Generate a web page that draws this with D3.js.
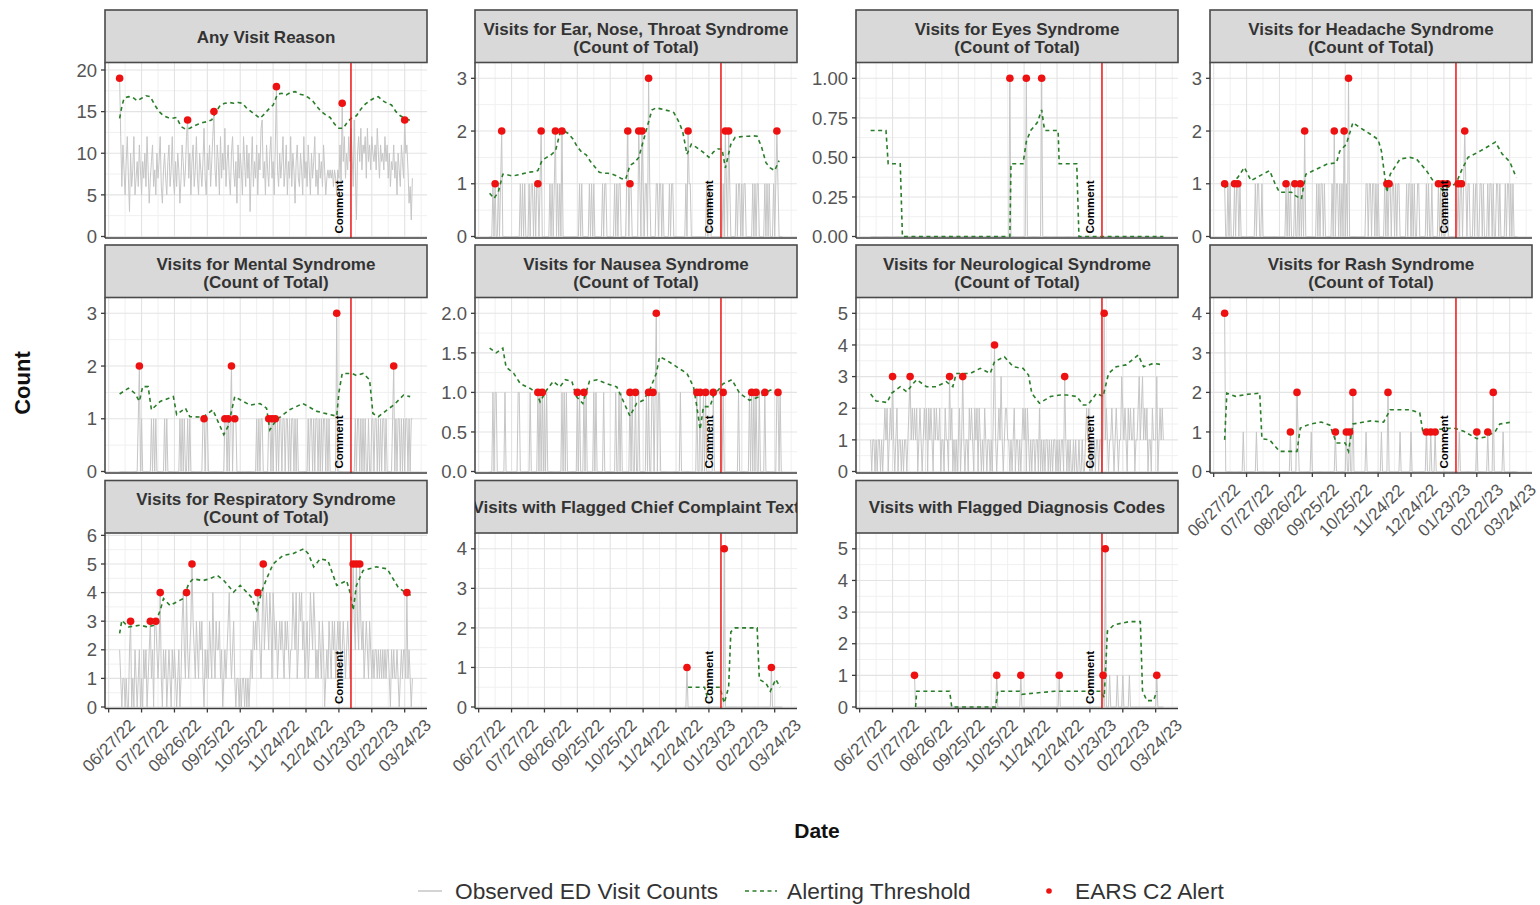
<!DOCTYPE html>
<html><head><meta charset="utf-8">
<script src="https://cdn.jsdelivr.net/npm/d3@7"></script>
<style>body{margin:0;background:#fff} svg{display:block} text{font-family:"Liberation Sans",Arial,sans-serif}</style>
</head><body><svg id="c" width="1540" height="905"></svg>
<script>
// ---------- DATA ----------
const startDate = "2022-07-07";          // first observed day (day index 0)
const xTickDates = ["2022-06-27","2022-07-27","2022-08-26","2022-09-25","2022-10-25","2022-11-24","2022-12-24","2023-01-23","2023-02-22","2023-03-24"];
const commentDate = "2023-01-23";
const eventDate = "2023-02-03";
const commentLabel = "Comment";
const legendLabels = ["Observed ED Visit Counts","Alerting Threshold","EARS C2 Alert"];

const titleAny = ["Any Visit Reason"];
const titleENT = ["Visits for Ear, Nose, Throat Syndrome","(Count of Total)"];
const titleEyes = ["Visits for Eyes Syndrome","(Count of Total)"];
const titleHead = ["Visits for Headache Syndrome","(Count of Total)"];
const titleMental = ["Visits for Mental Syndrome","(Count of Total)"];
const titleNausea = ["Visits for Nausea Syndrome","(Count of Total)"];
const titleNeuro = ["Visits for Neurological Syndrome","(Count of Total)"];
const titleRash = ["Visits for Rash Syndrome","(Count of Total)"];
const titleResp = ["Visits for Respiratory Syndrome","(Count of Total)"];
const titleCC = ["Visits with Flagged Chief Complaint Text"];
const titleDx = ["Visits with Flagged Diagnosis Codes"];

// daily observed counts (day index = position + start)
const obsAny = [
19,12,6,11,8,5,9,12,7,3, 10,6,8,12,5,7,9,6,11,8, 5,9,7,10,6,12,8,4,7,9, 11,6,8,5,10,7,9,12,6,4,
8,10,7,5,9,11,6,8,12,7, 5,9,6,10,8,4,7,11,9,6, 8,12,14,7,10,5,9,11,6,8, 12,7,5,10,8,6,9,13,7,5,
10,8,11,6,9,12,15,8,6,11, 9,5,12,7,10,8,13,6,9,11, 7,5,10,12,8,6,9,4,11,7, 10,8,5,12,9,6,11,7,10,3,
8,12,6,9,7,11,5,10,8,13, 14,7,9,5,11,8,6,10,12,7, 9,5,11,18,8,6,10,7,9,12, 6,8,11,5,9,7,12,6,10,8,
4,9,11,7,6,10,8,5,12,7, 9,6,11,8,5,10,7,9,12,6, 8,5,10,7,9,6,11,8,5,7, 8,7,8,7,8,6,8,7,5,8,
7,11,6,16,9,12,7,10,8,12, 9,13,10,6,14,8,2,10,12,9, 13,8,11,10,12,7,13,9,11,8, 12,10,9,11,8,13,10,7,11,9,
10,8,12,9,11,7,10,6,9,8, 11,7,9,5,10,8,6,11,9,7, 14,10,11,8,4,6,2,7];
const obsENT = [
0,0,0,1,0,1,0,0,1,0, 1,2,0,0,0,0,0,0,0,0, 0,0,0,0,0,0,0,0,1,0, 1,0,1,0,0,0,1,0,1,1,
0,1,0,1,1,0,1,2,0,0, 0,0,0,0,0,1,0,1,0,1, 2,0,1,0,1,0,2,0,0,0, 0,0,0,0,0,0,0,0,0,0,
0,0,1,0,1,0,0,0,0,0, 0,1,0,1,0,1,0,0,0,0, 0,0,0,1,0,1,1,0,0,0, 0,0,0,0,1,0,1,0,1,1,
0,0,0,0,0,1,2,0,1,1, 0,0,0,0,0,0,2,1,0,2, 1,0,1,1,0,3,1,0,0,0, 0,0,1,1,0,1,1,0,1,0,
0,0,0,0,1,0,1,1,0,0, 0,0,0,0,0,0,0,0,0,1, 0,2,1,1,0,0,0,0,0,0, 0,0,0,0,0,0,0,0,1,0,
1,1,0,0,0,0,0,0,0,0, 0,0,0,1,0,2,1,0,2,1, 0,0,0,0,0,1,0,1,1,0, 1,0,1,1,0,0,0,0,0,0,
1,0,1,0,1,1,0,0,0,0, 0,1,0,1,0,1,0,0,0,1, 0,1,2,1,0,0,0,0];
const obsEyes = [
0,0,0,0,0,0,0,0,0,0, 0,0,0,0,0,0,0,0,0,0, 0,0,0,0,0,0,0,0,0,0, 0,0,0,0,0,0,0,0,0,0,
0,0,0,0,0,0,0,0,0,0, 0,0,0,0,0,0,0,0,0,0, 0,0,0,0,0,0,0,0,0,0, 0,0,0,0,0,0,0,0,0,0,
0,0,0,0,0,0,0,0,0,0, 0,0,0,0,0,0,0,0,0,0, 0,0,0,0,0,0,0,0,0,0, 0,0,0,0,0,0,0,0,0,0,
0,0,0,0,0,0,0,1,0,0, 0,0,0,0,0,0,0,0,0,0, 0,0,1,0,0,0,0,0,0,0, 0,0,0,0,0,0,1,0,0,0,
0,0,0,0,0,0,0,0,0,0, 0,0,0,0,0,0,0,0,0,0, 0,0,0,0,0,0,0,0,0,0, 0,0,0,0,0,0,0,0,0,0,
0,0,0,0,0,0,0,0,0,0, 0,0,0,0,0,0,0,0,0,0, 0,0,0,0,0,0,0,0,0,0, 0,0,0,0,0,0,0,0,0,0,
0,0,0,0,0,0,0,0,0,0, 0,0,0,0,0,0,0,0,0,0, 0,0,0,0,0,0,0,0];
const obsHead = [
1,0,0,1,0,1,0,0,0,1, 0,1,1,0,1,0,0,0,0,0, 0,0,0,0,0,0,0,0,1,0, 1,1,0,0,1,0,0,0,0,0,
0,0,0,0,0,0,0,0,0,0, 0,0,0,0,0,0,1,0,1,0, 1,0,0,0,1,0,0,1,0,1, 0,1,0,2,0,0,0,0,0,0,
0,0,0,0,1,0,1,0,1,1, 0,1,0,0,0,0,0,0,1,0, 2,0,1,1,0,1,0,1,0,2, 0,1,0,3,0,0,0,0,0,0,
0,0,0,0,0,0,0,0,0,1, 1,0,1,1,0,1,1,0,1,0, 1,0,0,0,0,0,1,0,1,0, 1,1,0,1,1,0,1,0,1,1,
0,0,0,0,0,0,1,0,1,1, 0,1,0,1,0,0,1,1,0,0, 0,0,0,0,1,0,1,0,0,1, 0,0,0,0,0,1,0,1,0,1,
0,0,1,1,0,0,0,0,0,0, 0,0,0,1,0,1,1,0,1,2, 1,0,1,1,0,0,0,1,0,1, 1,0,0,1,1,0,1,0,0,0,
1,0,1,1,0,1,0,0,1,1, 0,1,0,0,0,0,1,0,1,1, 0,1,0,1,0,0,0,0];
const obsMental = [
0,0,0,0,0,0,0,0,0,0, 0,0,0,0,0,0,0,1,2,0, 1,0,0,0,0,0,0,0,0,1, 0,1,0,1,0,0,0,0,0,0,
0,1,0,1,0,0,0,0,0,0, 0,0,0,0,0,1,0,1,0,1, 0,0,1,0,1,0,0,0,0,0, 0,0,0,0,0,0,1,1,0,1,
1,0,0,0,0,0,0,0,0,0, 0,0,0,0,0,0,1,1,0,1, 0,1,2,0,1,1,1,0,0,0, 0,0,0,0,0,0,0,0,0,0,
0,0,0,0,0,1,0,1,0,1, 1,0,0,0,0,0,1,1,0,1, 0,1,1,0,1,0,1,1,0,1, 1,0,1,1,0,1,0,1,1,0,
1,0,1,0,0,0,0,0,0,0, 0,0,1,0,1,1,0,1,0,1, 1,0,1,0,1,0,1,1,0,1, 0,1,0,0,0,0,0,0,3,0,
0,0,0,0,0,0,0,0,0,0, 0,0,0,0,0,1,0,1,1,0, 1,0,1,0,1,0,0,1,0,0, 1,1,0,1,1,0,1,0,1,0,
1,1,0,1,0,0,0,0,0,1, 2,0,1,0,1,1,0,1,0,1, 0,1,1,0,1,0,1,1];
const obsNausea = [
0,0,0,1,0,1,1,0,0,0, 0,0,0,0,1,0,0,0,0,0, 0,0,0,0,0,0,1,1,0,0, 0,0,0,0,0,0,0,1,0,0,
0,0,0,0,1,0,1,0,1,0, 1,0,1,0,0,0,0,0,0,0, 0,0,0,0,0,0,1,0,1,0, 1,0,0,0,0,0,0,0,0,0,
1,0,1,0,0,0,1,0,1,0, 0,0,0,0,0,1,0,1,0,0, 0,0,0,0,1,0,0,0,0,0, 0,0,0,0,0,1,0,0,1,0,
1,0,0,0,0,0,0,0,1,0, 1,0,0,1,0,0,1,0,0,0, 0,0,0,1,0,1,0,0,1,1, 0,1,2,0,1,1,0,0,0,0,
0,0,0,0,0,0,0,0,0,0, 0,0,0,0,1,0,0,0,0,0, 0,0,0,0,0,0,0,0,0,1, 0,0,1,0,0,1,0,1,0,0,
0,0,0,0,1,0,0,0,0,0, 0,0,0,1,0,0,0,0,0,0, 0,0,0,0,0,0,0,1,0,0, 0,0,0,0,0,0,0,1,0,1,
0,1,0,1,0,0,1,0,0,0, 0,1,0,0,0,0,0,0,0,0, 0,0,1,1,0,1,0,0];
const obsNeuro = [
1,0,1,1,0,1,0,1,1,0, 1,0,1,2,1,2,0,1,2,1, 3,1,0,1,2,0,1,1,0,1, 0,1,1,0,1,2,3,1,2,1,
2,1,2,0,1,2,1,0,1,2, 1,2,0,2,1,2,1,0,2,1, 2,1,1,2,0,1,1,0,2,1, 1,0,3,1,2,0,1,0,1,0,
1,2,0,1,3,1,0,1,1,0, 2,1,2,1,0,2,1,2,0,2, 1,0,1,0,2,1,0,1,1,0, 1,0,2,4,1,0,1,2,1,3,
1,0,1,2,2,1,1,0,1,0, 1,2,0,1,1,0,1,0,1,2, 1,2,0,2,1,0,1,0,1,1, 0,1,1,0,2,0,1,0,1,0,
1,1,0,1,0,1,0,1,1,0, 1,0,1,0,1,1,0,3,1,0, 1,0,1,0,0,1,0,1,0,0, 1,0,0,1,0,0,1,2,1,2,
0,1,0,1,1,0,1,1,0,1, 1,0,1,5,1,2,1,0,1,1, 2,1,0,1,2,1,0,1,1,3, 2,1,2,1,0,2,1,2,1,1,
2,0,1,1,2,3,1,2,3,1, 2,1,2,0,1,1,0,2,1,1, 1,3,0,1,2,1,2,1];
const obsRash = [
4,0,0,0,0,0,0,0,0,0, 0,0,0,0,0,0,0,1,0,0, 0,0,0,0,0,0,0,0,0,1, 0,0,0,0,0,0,0,0,0,0,
0,0,0,0,0,0,0,0,0,0, 0,0,0,0,0,0,0,0,0,0, 1,0,0,0,0,0,2,1,0,0, 0,0,0,0,0,0,0,0,0,1,
0,0,0,0,0,0,0,0,0,0, 0,0,0,0,0,0,0,0,0,0, 0,1,0,0,0,0,0,0,0,0, 0,1,0,0,1,0,0,2,0,0,
0,0,0,0,0,0,0,0,0,1, 0,0,0,0,0,0,0,0,0,0, 0,0,0,1,0,0,0,0,0,2, 0,0,0,0,0,0,0,0,0,0,
1,0,0,0,0,0,0,0,0,0, 1,0,0,0,0,0,0,0,0,0, 0,0,0,0,1,0,0,0,1,0, 0,0,1,0,0,0,0,0,0,0,
0,0,0,0,0,0,0,0,0,0, 0,0,0,0,1,0,0,0,0,0, 0,0,0,0,0,0,0,0,0,0, 1,0,0,0,0,0,0,0,0,0,
1,0,0,0,0,2,0,0,0,0, 0,0,0,0,1,0,0,0,0,0, 0,0,0,0,0,0,0,0];
const obsResp = [
2,1,0,1,1,0,1,0,0,2, 3,0,1,0,2,1,0,1,2,0, 1,0,2,1,2,0,1,2,3,1, 2,0,3,3,2,1,2,4,1,0,
2,1,2,0,1,2,1,0,2,1, 2,1,0,1,2,0,1,3,4,2, 1,4,2,1,2,3,5,3,2,1, 3,2,1,3,2,3,1,0,2,1,
2,1,3,2,1,4,2,1,3,2, 2,3,1,2,0,1,2,1,2,3, 4,2,1,2,3,1,0,1,1,0, 1,0,1,1,0,1,0,1,0,1,
2,1,3,2,3,2,4,3,2,1, 3,5,2,3,4,3,2,4,3,1, 4,3,2,3,1,2,3,2,3,2, 1,3,2,3,2,1,2,2,4,3,
2,4,1,2,4,3,4,2,3,1, 2,3,1,2,4,3,2,4,3,1, 2,1,3,2,1,3,2,0,1,2, 1,3,2,1,3,2,3,1,2,3,
2,3,1,2,3,2,1,2,3,2, 1,2,3,5,3,2,5,3,2,5, 3,2,3,1,2,3,2,1,3,2, 1,2,1,2,2,1,2,1,2,1,
2,1,2,1,2,2,1,0,2,1, 2,1,1,2,1,0,1,2,1,2, 2,1,4,1,2,1,0,1];
const ccStartDay = 178;
const obsCC = [
0,0,1,0,0,0,0,0,0,0, 0,0,0,0,0,0,0,0,0,0, 0,0,0,0,0,0,0,0,0,0, 0,0,0,0,0,0,4,0,0,0,
0,0,0,0,0,0,0,0,0,0, 0,0,0,0,0,0,0,0,0,0, 0,0,0,0,0,0,0,0,0,0, 0,0,0,0,0,0,0,0,0,1,
0,0,0,0,0,0,0,0,0,0];
const dxStartDay = 40;
const obsDx = [
1,0,0,0,0,0,0,0,0,0, 0,0,0,0,0,0,0,0,0,0, 0,0,0,0,0,0,0,0,0,0, 0,0,0,0,0,0,0,0,0,0,
0,0,0,0,0,0,0,0,0,0, 0,0,0,0,0,0,0,0,0,0, 0,0,0,0,0,0,0,0,0,0, 0,0,0,0,0,1,0,0,0,0,
0,0,0,0,0,0,0,0,0,0, 0,0,0,0,0,0,0,1,0,0, 0,0,0,0,0,0,0,0,0,0, 0,0,0,0,0,0,0,0,0,0,
0,0,0,0,0,0,0,0,0,0, 0,0,1,0,0,0,0,0,0,0, 0,0,0,0,0,0,0,0,0,0, 0,0,0,0,0,0,0,0,0,0,
0,0,0,0,0,0,0,0,0,0, 0,0,1,0,5,0,0,0,1,0, 0,0,0,0,0,1,0,0,0,0, 1,0,0,0,0,0,1,0,0,0,
0,0,0,0,0,0,0,0,0,0, 0,0,0,0,0,0,0,0,0,0, 0,1,0,0,0,0,0,0];

// alerting threshold vertices [day index, value]
const thrAny = [[0,14.2],[2,15.6],[4,16.6],[8,16.8],[12,16.7],[16,16.3],[20,16.6],[24,16.9],[28,16.8],[32,15.8],[36,15.0],[40,14.5],[44,14.3],[48,14.2],[52,14.3],[56,13.2],[60,12.9],[64,13.0],[68,13.3],[72,13.5],[76,13.7],[80,13.8],[84,14.0],[88,15.0],[92,15.8],[96,16.0],[100,16.1],[104,16.0],[108,16.1],[112,16.0],[116,15.4],[120,15.0],[124,14.6],[128,14.2],[132,14.7],[136,15.3],[140,15.8],[144,17.1],[148,17.2],[152,17.0],[156,17.3],[160,17.4],[164,17.1],[168,17.0],[172,16.7],[176,16.3],[180,15.6],[184,15.0],[188,14.6],[192,14.3],[196,13.5],[200,13.0],[204,13.0],[208,13.8],[212,14.3],[216,14.5],[220,15.3],[224,15.9],[228,16.3],[232,16.6],[236,16.8],[240,16.3],[244,16.0],[248,15.8],[252,15.0],[256,14.5],[260,14.2],[264,14.0],[267,13.9]];
const thrENT = [[0,0.82],[4,0.72],[8,0.85],[12,1.18],[16,1.17],[20,1.15],[24,1.16],[28,1.18],[32,1.2],[36,1.22],[40,1.23],[44,1.25],[48,1.45],[52,1.5],[56,1.55],[60,1.62],[64,1.95],[68,2.0],[72,1.95],[76,1.85],[80,1.7],[84,1.6],[88,1.55],[92,1.42],[96,1.32],[100,1.22],[104,1.2],[108,1.2],[112,1.18],[116,1.15],[120,1.1],[124,1.08],[128,1.35],[132,1.4],[136,1.5],[140,1.8],[144,2.1],[148,2.4],[152,2.44],[156,2.42],[160,2.4],[164,2.38],[168,2.35],[172,2.2],[176,2.0],[180,1.56],[184,1.75],[188,1.7],[192,1.64],[196,1.58],[200,1.5],[204,1.6],[208,1.66],[212,1.66],[215,1.3],[220,1.75],[224,1.88],[228,1.89],[232,1.9],[236,1.9],[240,1.91],[244,1.9],[248,1.7],[252,1.4],[256,1.3],[260,1.25],[264,1.44]];
const thrEyes = [[0,0.67],[14,0.67],[16,0.46],[27,0.46],[29,0],[127,0],[128,0.46],[139,0.46],[142,0.6],[146,0.67],[152,0.72],[156,0.8],[158,0.7],[159,0.67],[171,0.67],[172,0.46],[188,0.46],[190,0],[267,0]];
const thrHead = [[0,0.93],[6,1.0],[12,1.12],[18,1.31],[24,1.06],[32,1.15],[41,1.25],[46,1.0],[50,0.84],[61,0.84],[64,0.78],[70,0.71],[74,1.18],[81,1.25],[93,1.37],[102,1.4],[105,1.62],[111,1.75],[117,2.16],[123,2.07],[133,1.94],[140,1.84],[143,1.62],[148,0.84],[151,1.18],[160,1.47],[169,1.5],[175,1.47],[184,1.25],[190,1.06],[195,0.96],[199,0.87],[205,0.95],[211,1.0],[216,1.25],[222,1.5],[233,1.62],[247,1.79],[253,1.57],[260,1.42],[266,1.12]];
const thrMental = [[0,1.47],[8,1.58],[14,1.48],[18,1.33],[21,1.61],[26,1.61],[29,1.17],[37,1.33],[49,1.42],[52,1.08],[60,1.2],[64,1.04],[76,1.03],[85,1.17],[95,0.7],[99,0.86],[105,1.42],[110,1.36],[119,1.26],[128,1.29],[134,1.2],[137,0.79],[143,0.98],[155,1.17],[167,1.29],[180,1.14],[192,1.08],[198,1.05],[200,1.5],[203,1.86],[212,1.86],[216,1.82],[222,1.86],[228,1.74],[231,1.1],[236,1.04],[244,1.17],[250,1.26],[259,1.45],[265,1.42]];
const thrNausea = [[0,1.56],[6,1.5],[12,1.56],[15,1.32],[22,1.24],[28,1.11],[37,1.05],[43,0.99],[46,0.88],[52,1.03],[58,1.14],[64,1.07],[69,1.16],[75,1.14],[79,0.95],[85,0.86],[91,1.14],[98,1.16],[107,1.11],[116,1.07],[120,0.95],[128,0.7],[134,0.86],[140,0.9],[146,1.03],[152,1.24],[155,1.45],[161,1.41],[171,1.32],[180,1.24],[186,1.07],[189,0.82],[192,0.53],[195,0.82],[201,0.82],[204,0.95],[213,1.11],[221,1.16],[228,0.99],[237,0.9],[247,0.95],[256,1.03],[265,1.01]];
const thrNeuro = [[0,2.45],[5,2.23],[15,2.18],[19,2.47],[27,2.68],[33,2.52],[39,2.79],[42,2.9],[51,2.68],[60,2.68],[69,2.84],[75,2.68],[78,3.1],[91,3.1],[100,3.26],[109,3.1],[113,3.47],[122,3.63],[130,3.31],[139,3.26],[144,3.05],[147,2.47],[154,2.16],[164,2.37],[173,2.42],[179,2.42],[188,2.37],[194,2.1],[198,2.1],[206,2.47],[212,2.37],[217,3.1],[224,3.31],[233,3.37],[244,3.68],[249,3.31],[258,3.42],[267,3.37]];
const thrRash = [[0,0.8],[2,1.98],[10,1.9],[20,1.95],[32,1.98],[34,0.83],[41,0.8],[50,0.51],[66,0.51],[69,1.1],[78,1.2],[88,1.25],[96,1.17],[102,0.72],[110,0.72],[113,0.51],[117,1.2],[133,1.28],[145,1.25],[151,1.56],[169,1.56],[178,1.48],[181,0.97],[193,1.06],[209,1.1],[218,1.02],[230,0.83],[239,0.88],[247,1.02],[251,1.2],[262,1.25]];
const thrResp = [[0,2.57],[2,3.03],[8,2.8],[19,2.86],[25,2.8],[32,2.86],[37,3.38],[40,3.79],[46,3.55],[58,3.79],[63,4.31],[67,4.48],[76,4.42],[82,4.48],[89,4.6],[95,4.42],[104,4.02],[110,4.25],[120,3.85],[125,3.38],[130,4.08],[134,4.48],[140,5.0],[149,5.3],[158,5.36],[168,5.53],[172,5.36],[177,4.9],[183,5.18],[190,5.12],[198,4.25],[207,4.42],[210,4.02],[213,3.38],[216,4.25],[222,4.77],[234,4.9],[244,4.83],[254,4.19],[262,3.96],[266,3.9]];
const thrCC = [[181,0.5],[196,0.5],[198,0.3],[204,0.5],[210,0.5],[214,0.1],[218,0.5],[220,1.9],[224,2.0],[244,2.0],[246,0.7],[252,0.6],[256,0.4],[261,0.7],[265,0.5]];
const thrDx = [[41,0],[42,0.5],[72,0.5],[74,0],[114,0],[116,0.5],[136,0.5],[138,0.4],[168,0.5],[200,0.5],[210,0.5],[213,0.3],[216,2.4],[222,2.6],[236,2.7],[246,2.7],[248,0.5],[252,0.2],[258,0.2],[261,0.5]];

// EARS C2 alerts [day index, count]
const alertsAny = [[0,19],[62,14],[86,15],[143,18],[203,16],[260,14]];
const alertsENT = [[5,1],[11,2],[44,1],[47,2],[60,2],[66,2],[126,2],[128,1],[136,2],[139,2],[145,3],[181,2],[215,2],[218,2],[262,2]];
const alertsEyes = [[127,1],[142,1],[156,1]];
const alertsHead = [[0,1],[9,1],[12,1],[56,1],[64,1],[69,1],[73,2],[100,2],[109,2],[113,3],[148,1],[150,1],[195,1],[199,1],[203,1],[213,1],[216,1],[219,2]];
const alertsMental = [[18,2],[77,1],[96,1],[99,1],[102,2],[105,1],[136,1],[139,1],[142,1],[198,3],[250,2]];
const alertsNausea = [[44,1],[48,1],[80,1],[86,1],[128,1],[133,1],[145,1],[149,1],[152,2],[189,1],[192,1],[197,1],[204,1],[213,1],[239,1],[243,1],[251,1],[263,1]];
const alertsNeuro = [[20,3],[36,3],[72,3],[84,3],[113,4],[177,3],[213,5]];
const alertsRash = [[0,4],[60,1],[66,2],[101,1],[111,1],[114,1],[117,2],[149,2],[184,1],[188,1],[192,1],[230,1],[240,1],[245,2]];
const alertsResp = [[10,3],[28,3],[33,3],[37,4],[61,4],[66,5],[126,4],[131,5],[213,5],[216,5],[219,5],[262,4]];
const alertsCC = [[180,1],[214,4],[257,1]];
const alertsDx = [[40,1],[115,1],[137,1],[172,1],[212,1],[214,5],[261,1]];

// y tick values per panel
const ticksAny = [0,5,10,15,20];
const ticksENT = [0,1,2,3];
const ticksEyes = [0,0.25,0.5,0.75,1];
const ticksHead = [0,1,2,3];
const ticksMental = [0,1,2,3];
const ticksNausea = [0,0.5,1,1.5,2];
const ticksNeuro = [0,1,2,3,4,5];
const ticksRash = [0,1,2,3,4];
const ticksResp = [0,1,2,3,4,5,6];
const ticksCC = [0,1,2,3,4];
const ticksDx = [0,1,2,3,4,5];

// ---------- CHART ----------
const svg = d3.select("#c");
const parse = d3.utcParse("%Y-%m-%d");
const fmtX = d3.utcFormat("%m/%d/%y");
const DAY = 864e5;
const t0 = parse(startDate).getTime();
const nDays = obsAny.length;
const dayDate = d => new Date(t0 + d * DAY);
const padDays = 0.05 * (nDays - 1);
const PW = 322, SH = 52.5, PH = 175.5;
const colLeft = [105, 475, 856, 1210];
const rowTop = [10, 245, 480.5];
const x = d3.scaleTime().domain([dayDate(-padDays), dayDate(nDays - 1 + padDays)]).range([0, PW]);
const xTicks = xTickDates.map(parse);
const xMinor = xTicks.map(t => new Date(t.getTime() + 15 * DAY)).concat([new Date(xTicks[0].getTime() - 15 * DAY)])
  .filter(t => t >= x.domain()[0] && t <= x.domain()[1]);

const fD = d3.format("d"), f2 = d3.format(".2f"), f1 = d3.format(".1f");
const panels = [
  {title:titleAny, obs:obsAny, start:0, thr:thrAny, alerts:alertsAny, ticks:ticksAny, fmt:fD},
  {title:titleENT, obs:obsENT, start:0, thr:thrENT, alerts:alertsENT, ticks:ticksENT, fmt:fD},
  {title:titleEyes, obs:obsEyes, start:0, thr:thrEyes, alerts:alertsEyes, ticks:ticksEyes, fmt:f2},
  {title:titleHead, obs:obsHead, start:0, thr:thrHead, alerts:alertsHead, ticks:ticksHead, fmt:fD},
  {title:titleMental, obs:obsMental, start:0, thr:thrMental, alerts:alertsMental, ticks:ticksMental, fmt:fD},
  {title:titleNausea, obs:obsNausea, start:0, thr:thrNausea, alerts:alertsNausea, ticks:ticksNausea, fmt:f1},
  {title:titleNeuro, obs:obsNeuro, start:0, thr:thrNeuro, alerts:alertsNeuro, ticks:ticksNeuro, fmt:fD},
  {title:titleRash, obs:obsRash, start:0, thr:thrRash, alerts:alertsRash, ticks:ticksRash, fmt:fD},
  {title:titleResp, obs:obsResp, start:0, thr:thrResp, alerts:alertsResp, ticks:ticksResp, fmt:fD},
  {title:titleCC, obs:obsCC, start:ccStartDay, thr:thrCC, alerts:alertsCC, ticks:ticksCC, fmt:fD},
  {title:titleDx, obs:obsDx, start:dxStartDay, thr:thrDx, alerts:alertsDx, ticks:ticksDx, fmt:fD}
];

const defs = svg.append("defs");
panels.forEach((p, i) => {
  const col = i % 4, row = Math.floor(i / 4);
  const showX = row === 2 || i === 7;
  const sTop = rowTop[row], pTop = sTop + SH, pBot = pTop + PH;
  const g = svg.append("g").attr("transform", `translate(${colLeft[col]},0)`);
  const allV = p.obs.concat(p.thr.map(d => d[1]), p.alerts.map(d => d[1]));
  const ymax = d3.max(allV) * 1.1;
  const y = d3.scaleLinear().domain([0, ymax]).range([pBot - 1.5, pTop]);
  const step = p.ticks[1] - p.ticks[0];
  const yMinor = p.ticks.map(t => t + step / 2).filter(t => t < ymax);

  // grid
  const grid = g.append("g");
  grid.selectAll(".ym").data(yMinor).join("line")
    .attr("x1", 0).attr("x2", PW).attr("y1", d => y(d)).attr("y2", d => y(d))
    .attr("stroke", "#f0f0f0").attr("stroke-width", 1);
  grid.selectAll(".xm").data(xMinor).join("line")
    .attr("x1", d => x(d)).attr("x2", d => x(d)).attr("y1", pTop).attr("y2", pBot)
    .attr("stroke", "#f0f0f0").attr("stroke-width", 1);
  grid.selectAll(".yM").data(p.ticks).join("line")
    .attr("x1", 0).attr("x2", PW).attr("y1", d => y(d)).attr("y2", d => y(d))
    .attr("stroke", "#e3e3e3").attr("stroke-width", 1.1);
  grid.selectAll(".xM").data(xTicks).join("line")
    .attr("x1", d => x(d)).attr("x2", d => x(d)).attr("y1", pTop).attr("y2", pBot)
    .attr("stroke", "#e3e3e3").attr("stroke-width", 1.1);

  // observed counts
  const obsLine = d3.line().x((v, k) => x(dayDate(p.start + k))).y(v => y(v));
  g.append("path").attr("d", obsLine(p.obs)).attr("fill", "none")
    .attr("stroke", "#c6c6c6").attr("stroke-width", 1);

  // threshold
  const thrLine = d3.line().x(d => x(dayDate(d[0]))).y(d => y(d[1]));
  g.append("path").attr("d", thrLine(p.thr)).attr("fill", "none")
    .attr("stroke", "#2a7d2a").attr("stroke-width", 1.6).attr("stroke-dasharray", "4,3.5");

  // event line
  const ex = x(parse(eventDate));
  g.append("line").attr("x1", ex).attr("x2", ex).attr("y1", pTop).attr("y2", pBot)
    .attr("stroke", "#ee2222").attr("stroke-width", 1.6);

  // alerts
  g.selectAll(".al").data(p.alerts).join("circle")
    .attr("cx", d => x(dayDate(d[0]))).attr("cy", d => y(d[1])).attr("r", 3.8)
    .attr("fill", "#ee1111");

  // comment label
  const cx = x(parse(commentDate));
  g.append("text").attr("transform", `translate(${cx},${y(0) - 3}) rotate(-90)`)
    .attr("dy", "0.35em").attr("font-size", 11.5).attr("font-weight", "bold")
    .attr("fill", "#000").text(commentLabel);

  // axes lines
  g.append("line").attr("x1", 0).attr("x2", 0).attr("y1", pTop).attr("y2", pBot)
    .attr("stroke", "#3c3c3c").attr("stroke-width", 1.5);
  g.append("line").attr("x1", 0).attr("x2", PW).attr("y1", pBot).attr("y2", pBot)
    .attr("stroke", "#3c3c3c").attr("stroke-width", 1.5);
  // y ticks
  g.selectAll(".yt").data(p.ticks).join("line")
    .attr("x1", -4).attr("x2", 0).attr("y1", d => y(d)).attr("y2", d => y(d))
    .attr("stroke", "#3c3c3c").attr("stroke-width", 1.3);
  g.selectAll(".yl").data(p.ticks).join("text")
    .attr("x", -8).attr("y", d => y(d)).attr("dy", "0.36em").attr("text-anchor", "end")
    .attr("font-size", 18.5).attr("fill", "#555").text(d => p.fmt(d));
  if (showX) {
    g.selectAll(".xt").data(xTicks).join("line")
      .attr("x1", d => x(d)).attr("x2", d => x(d)).attr("y1", pBot).attr("y2", pBot + 4)
      .attr("stroke", "#3c3c3c").attr("stroke-width", 1.3);
    g.selectAll(".xl").data(xTicks).join("text")
      .attr("transform", d => `translate(${x(d)},${pBot + 37}) rotate(-45)`)
      .attr("text-anchor", "middle").attr("dy", "0.35em")
      .attr("font-size", 17).attr("fill", "#555").text(d => fmtX(d));
  }

  // strip
  const cid = "clip" + i;
  defs.append("clipPath").attr("id", cid).append("rect")
    .attr("x", colLeft[col]).attr("y", sTop).attr("width", PW).attr("height", SH);
  svg.append("rect").attr("x", colLeft[col]).attr("y", sTop).attr("width", PW).attr("height", SH)
    .attr("fill", "#d9d9d9").attr("stroke", "#4a4a4a").attr("stroke-width", 1.6);
  const st = svg.append("g").attr("clip-path", `url(#${cid})`);
  const lines = p.title;
  const base = lines.length === 1 ? [sTop + 32.5] : [sTop + 24.5, sTop + 42.5];
  lines.forEach((t, k) => {
    st.append("text").attr("x", colLeft[col] + PW / 2).attr("y", base[k])
      .attr("text-anchor", "middle").attr("font-size", 17).attr("font-weight", "bold")
      .attr("fill", "#333").text(t);
  });
});

// axis titles
svg.append("text").attr("transform", "translate(30,383) rotate(-90)").attr("text-anchor", "middle")
  .attr("font-size", 22).attr("font-weight", "bold").attr("fill", "#111").text("Count");
svg.append("text").attr("x", 817).attr("y", 838).attr("text-anchor", "middle")
  .attr("font-size", 21).attr("font-weight", "bold").attr("fill", "#111").text("Date");

// legend
const ly = 891;
const lg = svg.append("g");
lg.append("line").attr("x1", 418).attr("x2", 442).attr("y1", ly).attr("y2", ly)
  .attr("stroke", "#c6c6c6").attr("stroke-width", 1.5);
lg.append("line").attr("x1", 745).attr("x2", 777).attr("y1", ly).attr("y2", ly)
  .attr("stroke", "#2a7d2a").attr("stroke-width", 1.6).attr("stroke-dasharray", "4,3.5");
lg.append("circle").attr("cx", 1049).attr("cy", ly).attr("r", 2.8).attr("fill", "#ee1111");
const lx = [455, 787, 1075];
legendLabels.forEach((t, k) => {
  lg.append("text").attr("x", lx[k]).attr("y", ly).attr("dy", "0.36em")
    .attr("font-size", 22.7).attr("fill", "#333").text(t);
});
</script></body></html>
